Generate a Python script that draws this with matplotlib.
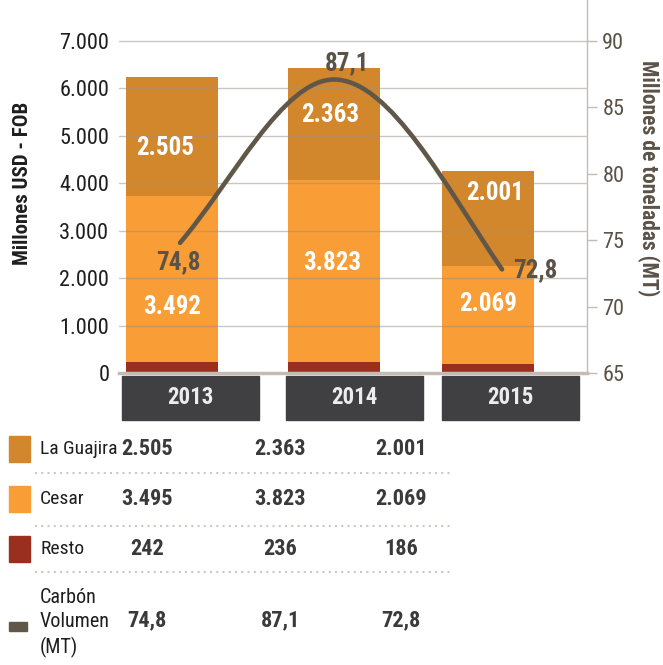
import matplotlib
matplotlib.use("Agg")
import matplotlib.pyplot as plt
import matplotlib.transforms as mtransforms
from matplotlib import font_manager
from matplotlib.patches import Rectangle, PathPatch
from matplotlib.lines import Line2D
from matplotlib.path import Path

names = {f.name for f in font_manager.fontManager.ttflist}
FONT = "Roboto"
for cand in ["Roboto Condensed", "Liberation Sans Narrow"]:
    if cand in names:
        FONT = cand
        break
plt.rcParams["font.family"] = [FONT, "DejaVu Sans"]

# exportaciones de carbón, millones USD FOB
years = ["2013", "2014", "2015"]
resto = [242, 236, 186]
cesar = [3492, 3823, 2069]
guajira = [2505, 2363, 2001]
# volumen exportado, millones de toneladas
volumen = [74.8, 87.1, 72.8]

# valores de la tabla inferior
tabla_guajira = [2505, 2363, 2001]
tabla_cesar = [3495, 3823, 2069]
tabla_resto = [242, 236, 186]
tabla_volumen = [74.8, 87.1, 72.8]

C_GUAJIRA = "#d3872d"
C_CESAR = "#f99d36"
C_RESTO = "#9b2f1f"
C_LINE = "#615749"
C_GRID = "#c4bcb4"
C_BROWN = "#5b5248"


def miles(v):
    return f"{v:,}".replace(",", ".")


def decimal(v):
    return f"{v:.1f}".replace(".", ",")


W, H = 663, 665
fig = plt.figure(figsize=(W / 100, H / 100), dpi=100)


def fx(x):
    return x / W


def fy(y):
    return 1 - y / H


# horizontal layout in pixel units
bar_x = [172, 334, 488]
line_x = [180, 334, 502]
box_left = [122, 286, 442]
bar_w = 92
box_w = 137

ax = fig.add_axes([fx(119), fy(373), fx(587) - fx(119), fy(0) - fy(373)])
ax.set_xlim(119, 587)
px_per_usd = 332 / 7000
ax.set_ylim(0, 373 / px_per_usd)

ax2 = ax.twinx()
ax2.set_ylim(65, 65 + 373 / (332 / 25))

# stacked bars
b1 = [r + c for r, c in zip(resto, cesar)]
ax.bar(bar_x, resto, width=bar_w, color=C_RESTO, zorder=1)
ax.bar(bar_x, cesar, width=bar_w, bottom=resto, color=C_CESAR, zorder=1)
ax.bar(bar_x, guajira, width=bar_w, bottom=b1, color=C_GUAJIRA, zorder=1)

# gridlines sit above the bars
yt = list(range(0, 7001, 1000))
for t in yt[1:]:
    ax.axhline(t, color="#9a8f84", alpha=0.5, lw=1, zorder=2)

ax.set_yticks(yt)
ax.set_yticklabels([miles(t) for t in yt])
ax.tick_params(axis="y", length=0, pad=7, labelsize=16, labelcolor="#1e1e1e")
ax.set_xticks([])
for s in ["left", "right", "top"]:
    ax.spines[s].set_visible(False)
ax.spines["bottom"].set_color(C_GRID)
ax.spines["bottom"].set_linewidth(2.5)

for s in ["left", "top", "bottom"]:
    ax2.spines[s].set_visible(False)
ax2.spines["right"].set_color(C_GRID)
ax2.spines["right"].set_linewidth(1)
ax2.set_yticks(range(65, 91, 5))
ax2.tick_params(axis="y", length=7, width=1, color=C_GRID, pad=4,
                labelsize=16, labelcolor=C_BROWN)

# in-bar value labels (pixel offsets from segment middle)
g_off = [(-7, -12), (-4, 9), (7, 26)]
c_off = [(0, -28), (-2, 8), (0, 11)]
for i in range(3):
    ax.annotate(miles(guajira[i]), (bar_x[i], b1[i] + guajira[i] / 2),
                xytext=g_off[i], textcoords="offset pixels",
                ha="center", va="center", color="white", fontsize=18,
                fontweight="bold", zorder=3)
    ax.annotate(miles(cesar[i]), (bar_x[i], resto[i] + cesar[i] / 2),
                xytext=c_off[i], textcoords="offset pixels",
                ha="center", va="center", color="white", fontsize=18,
                fontweight="bold", zorder=3)

# smooth volume curve (cubic Bezier through the points)
pts = list(zip(line_x, volumen))
slopes = []
for i in range(len(pts)):
    if i == 0:
        s = (pts[1][1] - pts[0][1]) / (pts[1][0] - pts[0][0]) * 1.1
    elif i == len(pts) - 1:
        s = (pts[-1][1] - pts[-2][1]) / (pts[-1][0] - pts[-2][0]) * 1.3
    else:
        s = 0.0
    slopes.append(s)
verts = [pts[0]]
codes = [Path.MOVETO]
for i in range(len(pts) - 1):
    (x0, y0), (x1, y1) = pts[i], pts[i + 1]
    h = (x1 - x0) / 3
    verts += [(x0 + h, y0 + slopes[i] * h), (x1 - h, y1 - slopes[i + 1] * h), (x1, y1)]
    codes += [Path.CURVE4] * 3
ax2.add_patch(PathPatch(Path(verts, codes), fill=False, edgecolor=C_LINE,
                        lw=3.3, capstyle="round", zorder=4))

vol_off = [(-2, -19, "center"), (13, 16, "center"), (11, -1, "left")]
for i in range(3):
    dx, dy, ha = vol_off[i]
    ax2.annotate(decimal(volumen[i]), (line_x[i], volumen[i]), xytext=(dx, dy),
                 textcoords="offset pixels", ha=ha, va="center", color=C_BROWN,
                 fontsize=18, fontweight="bold", zorder=5)

# year boxes under the axis
bt = mtransforms.blended_transform_factory(ax.transData, fig.transFigure)
for i, yr in enumerate(years):
    ax.add_patch(Rectangle((box_left[i], fy(420)), box_w, fy(376) - fy(420),
                           transform=bt, color="#404042", clip_on=False))
    ax.text(box_left[i] + box_w / 2, fy(398), yr, transform=bt, ha="center",
            va="center", color="#ececec", fontsize=16.5, fontweight="bold")

fig.text(fx(23), fy(183), "Millones USD - FOB", rotation=90, ha="center",
         va="center", fontsize=15, fontweight="bold", color="#1e1e1e")
fig.text(fx(648), fy(178), "Millones de toneladas (MT)", rotation=270,
         ha="center", va="center", fontsize=15.5, fontweight="bold", color=C_BROWN)

# table under the chart
col_x = [147, 280, 401]
rows = [
    ("La Guajira", C_GUAJIRA, [miles(v) for v in tabla_guajira], 449),
    ("Cesar", C_CESAR, [miles(v) for v in tabla_cesar], 499),
    ("Resto", C_RESTO, [miles(v) for v in tabla_resto], 549),
]
for label, color, vals, y in rows:
    fig.add_artist(Rectangle((fx(9), fy(y + 13)), fx(21), fy(y - 13) - fy(y + 13),
                             transform=fig.transFigure, color=color))
    fig.text(fx(40), fy(y), label, ha="left", va="center", fontsize=14,
             color="#1e1e1e")
    for x, v in zip(col_x, vals):
        fig.text(fx(x), fy(y), v, ha="center", va="center", fontsize=16,
                 fontweight="bold", color="#3a3a3a")

fig.add_artist(Rectangle((fx(9), fy(631)), fx(18), fy(622) - fy(631),
                         transform=fig.transFigure, color=C_LINE))
fig.text(fx(40), fy(623), "Carbón\nVolumen\n(MT)", ha="left", va="center",
         fontsize=14.5, color="#1e1e1e", linespacing=1.35)
for x, v in zip(col_x, tabla_volumen):
    fig.text(fx(x), fy(620), decimal(v), ha="center", va="center", fontsize=16,
             fontweight="bold", color="#3a3a3a")

for y in [473, 526, 572]:
    fig.add_artist(Line2D([fx(35), fx(453)], [fy(y), fy(y)], transform=fig.transFigure,
                          color="#cfc8c0", lw=1.5, linestyle=(0, (1, 2))))

fig.savefig("out.png", dpi=100)
